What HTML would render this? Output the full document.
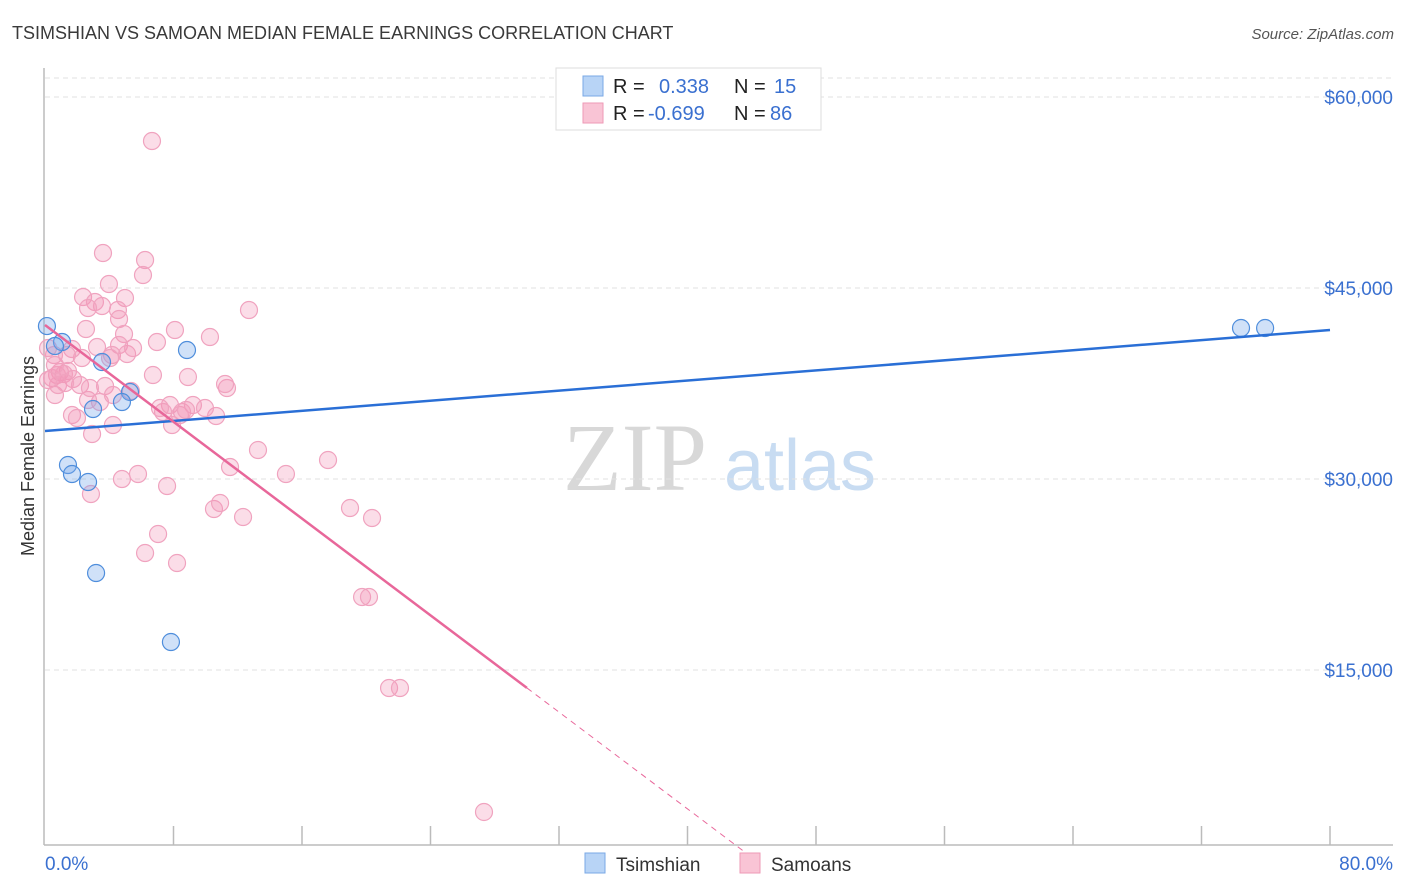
<!DOCTYPE html>
<html><head><meta charset="utf-8"><style>
body{margin:0;background:#fff;font-family:"Liberation Sans",sans-serif}
#wrap{position:relative;width:1406px;height:892px;overflow:hidden}
</style></head><body>
<div id="wrap">
<svg id="svg" width="1406" height="892" xmlns="http://www.w3.org/2000/svg">
<text x="12" y="39" font-size="18" fill="#3a3a3a">TSIMSHIAN VS SAMOAN MEDIAN FEMALE EARNINGS CORRELATION CHART</text>
<text x="1394" y="39" font-size="15" fill="#555" font-style="italic" text-anchor="end">Source: ZipAtlas.com</text>
<text x="635" y="490" font-size="96" fill="#d8d8d8" font-family="Liberation Serif,serif" text-anchor="middle">ZIP</text>
<text x="800" y="490" font-size="72" fill="#c8dcf2" text-anchor="middle">atlas</text>
<text transform="translate(34,456) rotate(-90)" font-size="18" fill="#333" text-anchor="middle">Median Female Earnings</text>
<g id="grid"></g><g id="axes"></g><g id="pts"></g><g id="lines"></g>
<g>
<rect x="556" y="68" width="265" height="62" fill="#fff" stroke="#ddd"/>
<rect x="583" y="76" width="20" height="20" fill="#b8d4f6" stroke="#7aa8e6"/>
<rect x="583" y="103" width="20" height="20" fill="#f9c4d5" stroke="#ee9ab6"/>
<text x="613" y="93" font-size="20" fill="#222">R = </text><text x="659" y="93" font-size="20" fill="#3a70d0">0.338</text>
<text x="734" y="93" font-size="20" fill="#222">N = </text><text x="774" y="93" font-size="20" fill="#3a70d0">15</text>
<text x="613" y="120" font-size="20" fill="#222">R = </text><text x="648" y="120" font-size="20" fill="#3a70d0">-0.699</text>
<text x="734" y="120" font-size="20" fill="#222">N = </text><text x="770" y="120" font-size="20" fill="#3a70d0">86</text>
</g>
<g>
<rect x="585" y="853" width="20" height="20" fill="#b8d4f6" stroke="#7aa8e6"/>
<text x="616" y="871" font-size="19" fill="#333">Tsimshian</text>
<rect x="740" y="853" width="20" height="20" fill="#f9c4d5" stroke="#ee9ab6"/>
<text x="771" y="871" font-size="19" fill="#333">Samoans</text>
</g>
</svg>
</div>
<script>
const yTicks=[15000,30000,45000,60000];
const yTickLabels=["$15,000","$30,000","$45,000","$60,000"];
const xTickLabels=["0.0%","80.0%"];
const blueX=[0.12,1.06,3.55,8.84,5.29,4.79,2.99,1.43,1.68,2.68,3.18,7.84,74.46,75.96,0.62];
const blueY=[42010,40757,39186,40129,36830,36045,35495,31098,30391,29763,22616,17198,41857,41857,40443];
const pinkX=[6.66,3.61,6.23,6.10,3.98,2.37,4.98,3.11,3.55,4.54,2.68,12.70,4.61,2.55,4.92,8.09,10.27,6.97,3.24,4.61,1.68,4.17,5.11,2.30,0.56,1.37,1.43,0.93,0.75,1.18,0.44,1.74,6.72,8.90,0.62,2.18,3.74,5.35,11.33,11.21,3.42,2.68,1.68,1.99,0.62,9.21,7.78,7.35,8.53,8.40,10.65,8.78,4.23,2.93,7.91,13.26,11.52,17.62,15.00,5.79,4.79,7.60,2.86,10.52,10.90,12.33,18.99,20.36,7.04,6.23,8.22,19.74,20.17,21.42,22.10,27.33,0.81,0.19,0.19,1.25,4.05,7.16,9.96,5.48,2.80,4.23];
const pinkY=[56542,47746,47197,46019,45312,44291,44212,43898,43584,43270,43427,43270,42563,41778,41385,41699,41150,40757,40364,40521,40207,39736,39815,39501,39736,39736,38480,38401,38166,38244,37930,37851,38166,38009,38951,37380,37302,36909,37145,37459,36045,36202,35024,34789,36595,35810,35810,35260,35260,35024,34946,35417,34239,33532,34239,32276,30941,31491,30391,30391,29998,29449,28821,27643,28114,27014,27721,26936,25679,24187,23402,20732,20732,13586,13586,3848,37380,40286,37773,37537,39501,35574,35574,40286,37145,36595];
const blueTrend=[33768,41699];
const pinkTrend=[42092,-950];
const NS="http://www.w3.org/2000/svg";
const X=p=>45+p*1285/80, Y=v=>861-v*191/15000;
function mk(t,a,parent){const e=document.createElementNS(NS,t);for(const k in a)e.setAttribute(k,a[k]);document.getElementById(parent).appendChild(e);return e;}
let g=mk('line',{x1:45,x2:1393,y1:78,y2:78,stroke:'#e2e2e2','stroke-dasharray':'5,4'},'grid');


yTicks.forEach((v,i)=>{
 const l=mk('line',{x1:45,x2:1393,y1:Y(v),y2:Y(v),stroke:'#e2e2e2','stroke-dasharray':'5,4'},'grid');
 
 
 const t=mk('text',{x:1393,y:Y(v)+7,'font-size':19,fill:'#3a70d0','text-anchor':'end'},'grid');
 t.textContent=yTickLabels[i];
 
 
});
let a=mk('line',{x1:44,x2:44,y1:68,y2:845,stroke:'#bbb','stroke-width':1.5},'axes');


a=mk('line',{x1:44,x2:1393,y1:845,y2:845,stroke:'#bbb','stroke-width':1.5},'axes');


for(let p=8;p<=80;p+=8){
 const tk=mk('line',{x1:X(p),x2:X(p),y1:826,y2:845,stroke:'#bbb','stroke-width':1.5},'axes');
 
 
}
let t=mk('text',{x:45,y:870,'font-size':19,fill:'#3a70d0'},'axes');t.textContent=xTickLabels[0];


t=mk('text',{x:1393,y:870,'font-size':19,fill:'#3a70d0','text-anchor':'end'},'axes');t.textContent=xTickLabels[1];


pinkX.forEach((x,i)=>{
 const c=mk('circle',{cx:X(x),cy:Y(pinkY[i]),r:8.5,fill:'rgba(244,150,182,0.32)',stroke:'#f0a3bf','stroke-width':1.2},'pts');
 
 
});
blueX.forEach((x,i)=>{
 const c=mk('circle',{cx:X(x),cy:Y(blueY[i]),r:8.5,fill:'rgba(120,170,235,0.35)',stroke:'#4f8edc','stroke-width':1.2},'pts');
 
 
});
let ln=mk('line',{x1:X(0),y1:Y(blueTrend[0]),x2:X(80),y2:Y(blueTrend[1]),stroke:'#2a6fd6','stroke-width':2.5},'lines');


const pv=p=>pinkTrend[0]+pinkTrend[1]*p;
ln=mk('line',{x1:X(0),y1:Y(pv(0)),x2:X(30),y2:Y(pv(30)),stroke:'#e8679a','stroke-width':2.5},'lines');


const pend=-pinkTrend[0]/pinkTrend[1];
ln=mk('line',{x1:X(30),y1:Y(pv(30)),x2:X(pend),y2:Y(pv(pend)),stroke:'#e8679a','stroke-width':1,'stroke-dasharray':'6,5'},'lines');


</script>
</body></html>
